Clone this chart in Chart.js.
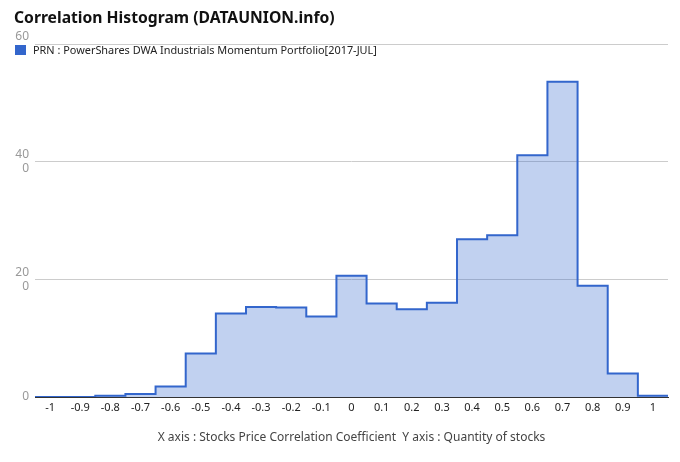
<!DOCTYPE html>
<html>
<head>
<meta charset="utf-8">
<script src="https://cdn.jsdelivr.net/npm/chart.js@4"></script>
<style>
  body { margin: 0; background: #fff; }
  #wrap { position: relative; width: 680px; height: 462px; }
  #title {
    position: absolute; left: 14px; top: 6px;
    font: bold 15.7px "Noto Sans", sans-serif; color: #111;
  }
  #legend {
    position: absolute; left: 15px; top: 42px;
    font: 10.9px "Noto Sans", sans-serif; color: #222;
    display: flex; align-items: center;
  }
  #legend span.box { width: 11px; height: 10px; margin-right: 7px; display: inline-block; }
</style>
</head>
<body>
<div id="wrap">
  <canvas id="chart" width="680" height="462"></canvas>
  <div id="title">Correlation Histogram (DATAUNION.info)</div>
  <div id="legend"><span class="box"></span><span id="legendText"></span></div>
</div>
<script>
// bin centers (correlation coefficient)
const categories = [-1, -0.9, -0.8, -0.7, -0.6, -0.5, -0.4, -0.3, -0.2, -0.1, 0,
                    0.1, 0.2, 0.3, 0.4, 0.5, 0.6, 0.7, 0.8, 0.9, 1];
// quantity of stocks per bin
const counts = [0, 0, 0.2, 0.5, 1.8, 7.4, 14.2, 15.3, 15.2, 13.7, 20.6,
                15.9, 14.9, 16.0, 26.8, 27.5, 41.1, 53.6, 18.9, 4.0, 0.2];
const seriesName = "PRN : PowerShares DWA Industrials Momentum Portfolio[2017-JUL]";
const xTickLabels = ["-1", "-0.9", "-0.8", "-0.7", "-0.6", "-0.5", "-0.4", "-0.3", "-0.2", "-0.1", "0",
                     "0.1", "0.2", "0.3", "0.4", "0.5", "0.6", "0.7", "0.8", "0.9", "1"];
const yTicks = [0, 20, 40, 60];
const yTickLabels = [["0"], ["20", "0"], ["40", "0"], ["60", ""]];

const lineColor = "#3366cc";
const binHalf = 0.05;

document.querySelector("#legend .box").style.background = lineColor;
document.getElementById("legendText").textContent = seriesName;

// step points at bin edges: each bin holds its value until the next edge
const points = categories.map((c, i) => ({ x: c - binHalf, y: counts[i] }));
points.push({ x: categories[categories.length - 1] + binHalf, y: counts[counts.length - 1] });

const ctx = document.getElementById("chart").getContext("2d");
new Chart(ctx, {
  type: "line",
  data: {
    datasets: [{
      label: seriesName,
      data: points,
      stepped: "before",
      borderColor: lineColor,
      borderWidth: 2,
      backgroundColor: "rgba(51, 102, 204, 0.3)",
      fill: "origin",
      pointRadius: 0,
    }],
  },
  options: {
    responsive: false,
    animation: false,
    layout: { padding: { top: 44, right: 12, bottom: 0, left: 0 } },
    plugins: {
      legend: { display: false },
      title: { display: false },
      tooltip: { enabled: false },
    },
    scales: {
      x: {
        type: "linear",
        min: categories[0] - binHalf,
        max: categories[categories.length - 1] + binHalf,
        afterBuildTicks: (scale) => {
          scale.ticks = categories.map((v) => ({ value: v }));
        },
        afterFit: (scale) => { scale.height = 65; },
        grid: { display: false, drawTicks: false },
        border: { display: true, color: "#333", width: 1 },
        ticks: {
          autoSkip: false,
          maxRotation: 0,
          padding: 4,
          color: "#222",
          font: { family: "Noto Sans", size: 11 },
          callback: (value) => {
            const i = categories.findIndex((c) => Math.abs(c - value) < 1e-6);
            return i >= 0 ? xTickLabels[i] : "";
          },
        },
        title: {
          display: true,
          text: "X axis : Stocks Price Correlation Coefficient  Y axis : Quantity of stocks",
          color: "#444",
          font: { family: "Noto Sans", size: 12 },
          padding: { top: 0, bottom: 17 },
        },
      },
      y: {
        min: 0,
        max: 60,
        afterBuildTicks: (scale) => {
          scale.ticks = yTicks.map((v) => ({ value: v }));
        },
        afterFit: (scale) => { scale.width = 35; },
        grid: {
          drawTicks: false,
          color: (c) => (c.tick && c.tick.value === 0 ? "#333" : "#cccccc"),
        },
        border: { display: false },
        ticks: {
          padding: 6,
          color: "#999",
          font: { family: "Noto Sans", size: 12 },
          callback: (value) => {
            const i = yTicks.indexOf(value);
            return i >= 0 ? yTickLabels[i] : "";
          },
        },
      },
    },
  },
});
</script>
</body>
</html>
